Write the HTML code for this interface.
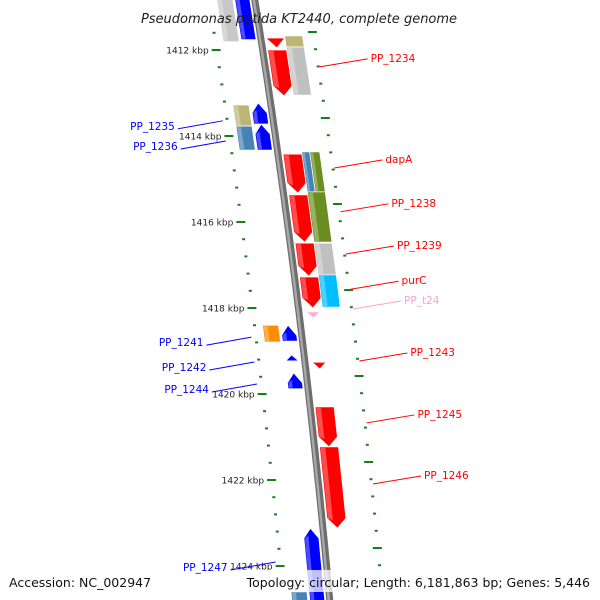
<!DOCTYPE html>
<html><head><meta charset="utf-8"><style>
html,body{margin:0;padding:0;background:#fff;}
svg{display:block;font-family:"DejaVu Sans","Liberation Sans",sans-serif;}
</style></head><body>
<svg id="map" width="600" height="600" viewBox="0 0 600 600" xmlns="http://www.w3.org/2000/svg">
<g id="ticks"></g>
<g id="backbone"></g>
<g id="genes"></g>
<g id="labels"></g>
<text x="299" y="23" text-anchor="middle" font-size="13" font-style="italic" fill="#222">Pseudomonas putida KT2440, complete genome</text>
<rect x="255" y="570" width="340" height="22" fill="#fff" fill-opacity="0.75"/>
<text x="9" y="587" font-size="12.5" fill="#111">Accession: NC_002947</text>
<text x="590" y="587" text-anchor="end" font-size="12.5" fill="#111">Topology: circular; Length: 6,181,863 bp; Genes: 5,446</text>
</svg>
<script>
// data (kbp)
const geneNames=["g0a","g0b","PP_1233s","PP_1233o","PP_1234r","PP_1234g","PP_1235o","PP_1235b","PP_1236s","PP_1236b","dapA","dapAs","dapAo","PP_1238r","PP_1238o","PP_1239r","PP_1239g","purCr","purCc","PP_t24","PP_1241o","PP_1241b","PP_1242","PP_1243","PP_1244","PP_1245","PP_1246","PP_1247","PP_1248s"];
const geneStart=[1410.8,1410.8,1411.72,1411.67,1412.0,1411.93,1413.28,1413.23,1413.77,1413.72,1414.42,1414.37,1414.37,1415.37,1415.3,1416.49,1416.49,1417.28,1417.23,1418.09,1418.4,1418.4,1419.09,1419.26,1419.51,1420.3,1421.23,1423.12,1424.6];
const geneEnd=[1411.81,1411.76,1411.95,1411.93,1413.07,1413.05,1413.77,1413.72,1414.33,1414.33,1415.33,1415.3,1415.3,1416.47,1416.47,1417.26,1417.23,1418.0,1417.98,1418.23,1418.79,1418.77,1419.23,1419.42,1419.88,1421.23,1423.12,1424.9,1424.9];
const geneStrand=[0,0,1,0,1,0,0,-1,0,-1,1,0,0,1,0,1,0,1,0,1,0,-1,-1,1,-1,1,1,-1,0];
const geneLane=["L2","L1","R1","R2","R1","R2","L2","L1","L2","L1","R1","R2a","R2b","R1","R2","R1","R2","R1","R2","R1s","L2","L1","L1s","R1s","L1","R1","R1","L1","L2"];
const geneColor=["#c8c8c8","#0000ff","#ff0000","#bdb577","#ff0000","#c0c0c0","#bdb577","#0000ff","#4682b4","#0000ff","#ff0000","#4682b4","#6b8e23","#ff0000","#6b8e23","#ff0000","#c0c0c0","#ff0000","#00bfff","#ffaad5","#ff8c00","#0000ff","#0000ff","#ff0000","#0000ff","#ff0000","#ff0000","#0000ff","#4682b4"];
const labelNames=["PP_1234","dapA","PP_1238","PP_1239","purC","PP_t24","PP_1243","PP_1245","PP_1246","PP_1235","PP_1236","PP_1241","PP_1242","PP_1244","PP_1247"];
const labelKbp=[1412.3,1414.65,1415.67,1416.65,1417.47,1417.93,1419.14,1420.58,1422.0,1413.74,1414.21,1418.77,1419.35,1419.86,1424.0];
const labelSide=[1,1,1,1,1,1,1,1,1,-1,-1,-1,-1,-1,-1];
const labelColor=["#ff0000","#ff0000","#ff0000","#ff0000","#ff0000","#ff9fcf","#ff0000","#ff0000","#ff0000","#0000ff","#0000ff","#0000ff","#0000ff","#0000ff","#0000ff"];
const tickLabels=["1412 kbp","1414 kbp","1416 kbp","1418 kbp","1420 kbp","1422 kbp","1424 kbp"];
const tickMajorKbp=[1412,1414,1416,1418,1420,1422,1424];

const NS="http://www.w3.org/2000/svg";
function yOf(k){return 50+(k-1412)*43;}
function cx(y){return 254.85+0.159*y-0.000057*y*y;}
const lanes={L2:[-38,-22],L1:[-20,-5],R1:[5,24],R2:[24,42],R2a:[24,32],R2b:[32,42],R1s:[7,21],L1s:[-19,-6]};
function mk(tag,attrs,parent){const e=document.createElementNS(NS,tag);for(const k in attrs)e.setAttribute(k,attrs[k]);parent.appendChild(e);return e;}

// backbone
const bb=document.getElementById('backbone');
let pts=[];for(let y=-5;y<=605;y+=5)pts.push((cx(y)).toFixed(1)+","+y);
let p1=mk('polyline',{points:pts.join(' '),fill:'none',stroke:'#6e6e6e','stroke-width':7},bb);


let p2=mk('polyline',{points:pts.map(s=>{const [x,y]=s.split(',');return (+x-1)+","+y;}).join(' '),fill:'none',stroke:'#a8a8a8','stroke-width':2.5},bb);



// ticks
const tg=document.getElementById('ticks');
for(let i=0;i<=36;i++){
  const k=1410.8+i*0.4;const y=yOf(k);if(y<28||y>598)continue;
  const major=Math.abs(k-Math.round(k/2)*2)<0.01;
  const x=cx(y)-46;
  const t=mk('rect',{x:major?x-5:x-1.5,y:y-1,width:major?9:3,height:2,fill:'#1a7f1a'},tg);
  
  
  const y2=y-18;
  if(y2>28&&y2<598){const x2=cx(y2)+53;
  const t2=mk('rect',{x:major?x2-5:x2-1.5,y:y2-1,width:major?9:3,height:2,fill:'#1a7f1a'},tg);
  
  }
}
tickMajorKbp.forEach((k,i)=>{const y=yOf(k);const x=cx(y)-46-8;
  const t=mk('text',{x:x,y:y+3.5,'text-anchor':'end','font-size':'9',fill:'#222'},tg);
  t.textContent=tickLabels[i];
  
  });

// genes
const gg=document.getElementById('genes');
geneNames.forEach((n,i)=>{
  const y1=yOf(geneStart[i]),y2=yOf(geneEnd[i]);const [a,b]=lanes[geneLane[i]];
  const s=geneStrand[i];const h=Math.min(10,y2-y1);
  let P=[];
  if(s===1){P=[[a,y1],[b,y1],[b,y2-h],[(a+b)/2,y2],[a,y2-h]];}
  else if(s===-1){P=[[(a+b)/2,y1],[b,y1+h],[b,y2],[a,y2],[a,y1+h]];}
  else P=[[a,y1],[b,y1],[b,y2],[a,y2]];
  const pp=P.map(q=>(cx(q[1])+q[0]).toFixed(1)+","+q[1].toFixed(1)).join(' ');
  const g=mk('polygon',{points:pp,fill:geneColor[i],stroke:'#fff','stroke-width':0.8},gg);
  
  
  if(y2-y1>12){const w=(b-a)*0.25;
    const hp=[[a+1,y1+(s===-1?h:1)],[a+1+w,y1+(s===-1?h*0.7:1)],[a+1+w,y2-(s===1?h*0.8:1)],[a+1,y2-(s===1?h:1)]]
      .map(q=>(cx(q[1])+q[0]).toFixed(1)+","+q[1].toFixed(1)).join(' ');
    const hl=mk('polygon',{points:hp,fill:'#fff','fill-opacity':0.3},gg);
    
    }
});

// labels
const lg=document.getElementById('labels');
labelNames.forEach((n,i)=>{
  const y=yOf(labelKbp[i]);const side=labelSide[i];
  let x0,x1,tx,gy,ty,tby;
  if(side===1){x0=cx(y)+55;x1=x0+48;tx=x1+3;gy=y+4;ty=y-4;tby=y-1;}
  else{x0=cx(y)-51;x1=x0-45;tx=x1-3;gy=y-4;ty=y+4;tby=y+5;}
  const l=mk('line',{x1:x0,y1:gy,x2:x1,y2:ty,stroke:labelColor[i],'stroke-width':1},lg);
  
  
  const t=mk('text',{x:tx,y:tby,'text-anchor':side===1?'start':'end','font-size':'10.5',fill:labelColor[i]},lg);
  t.textContent=n;
  
  
});
</script>
</body></html>
